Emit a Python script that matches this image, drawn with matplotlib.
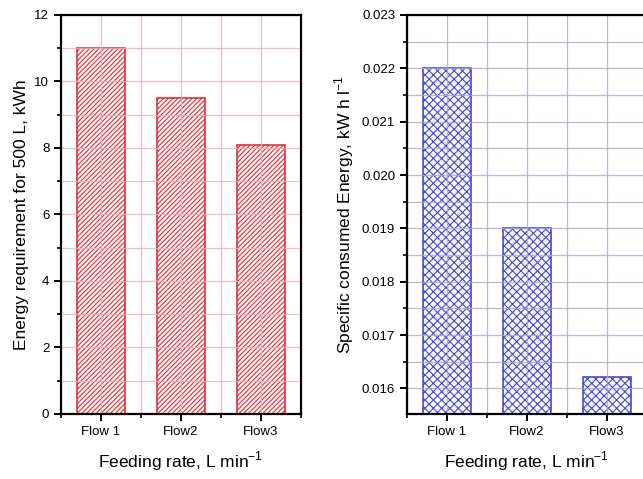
import numpy as np
import matplotlib.pyplot as plt
from matplotlib.ticker import MultipleLocator

plt.rcParams['font.family'] = ['Liberation Sans', 'DejaVu Sans']
plt.rcParams['mathtext.fontset'] = 'custom'
plt.rcParams['mathtext.rm'] = 'Liberation Sans'
plt.rcParams['hatch.linewidth'] = 0.8

flows = ['Flow 1', 'Flow2', 'Flow3']
energy_500l = [11.0, 9.5, 8.1]
specific_energy = [0.022, 0.019, 0.01622]

x = np.arange(1, len(flows) + 1)

fig = plt.figure(figsize=(6.43, 4.79), dpi=100)
ax1 = fig.add_axes([0.095, 0.1357, 0.373, 0.833])
ax2 = fig.add_axes([0.633, 0.1357, 0.373, 0.833])


def style(ax, gridcol):
    ax.set_xlim(0.5, 3.5)
    ax.set_xticks(x)
    ax.set_xticklabels(flows, fontsize=9.5)
    ax.xaxis.set_minor_locator(MultipleLocator(0.5))
    ax.grid(True, which='both', color=gridcol, lw=0.9, zorder=3, alpha=0.8)
    ax.set_axisbelow(False)
    for s in ax.spines.values():
        s.set_linewidth(1.6)
        s.set_zorder(4)
    ax.tick_params(which='major', direction='out', length=5, width=1.4, labelsize=9.5)
    ax.tick_params(which='minor', direction='out', length=3, width=1.2)
    ax.set_xlabel('Feeding rate, L min$^{\\mathregular{-1}}$', fontsize=12.5, labelpad=8)


ax1.bar(x, energy_500l, width=0.6, facecolor='#fff8f6', edgecolor='#e0303c',
        hatch='///////', lw=1.2, zorder=2)
style(ax1, '#e8b0b8')
ax1.set_ylim(0, 12)
ax1.yaxis.set_major_locator(MultipleLocator(2))
ax1.yaxis.set_minor_locator(MultipleLocator(1))
ax1.set_ylabel('Energy requirement for 500 L, kWh', fontsize=12.5)

ax2.bar(x, specific_energy, width=0.6, facecolor='#f8f8ff', edgecolor='#4a4ac8',
        hatch='xxxx', lw=1.2, zorder=2)
style(ax2, '#a8a8cc')
ax2.set_ylim(0.01552, 0.023)
ax2.yaxis.set_major_locator(MultipleLocator(0.001))
ax2.yaxis.set_minor_locator(MultipleLocator(0.0005))
ax2.yaxis.set_major_formatter(plt.FormatStrFormatter('%.3f'))
ax2.set_ylabel('Specific consumed Energy, kW h l$^{\\mathregular{-1}}$', fontsize=12.5)

fig.savefig('out.png', dpi=100)
